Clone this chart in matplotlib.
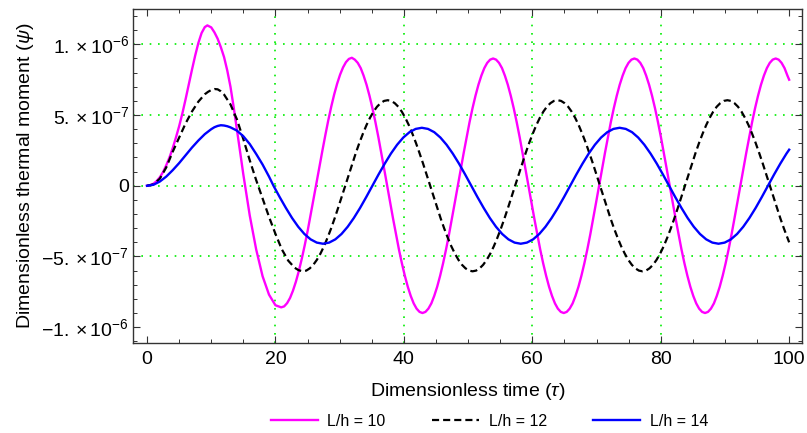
import matplotlib

matplotlib.use("Agg")
import matplotlib.pyplot as plt
from matplotlib.ticker import MultipleLocator

# values (psi in units of 1e-6)
t_10 = [0.0, 0.5, 1.0, 1.5, 2.0, 2.5, 3.0, 3.5, 4.0, 4.5, 5.0, 5.5, 6.0, 6.5, 7.0, 7.5,
        8.0, 8.5, 9.0, 9.4, 10.0, 10.5, 11.0, 11.5, 12.0, 12.5, 13.0, 13.5, 14.0, 14.5,
        15.0, 16.0, 17.0, 18.0, 19.0, 20.0,
        20.90, 21.36, 21.82, 22.28, 22.73, 23.19, 23.65, 24.11, 24.57, 25.03, 25.48, 25.94,
        26.40, 26.86, 27.32, 27.78, 28.23, 28.69, 29.15, 29.61, 30.07, 30.53, 30.98, 31.44,
        31.90, 32.36, 32.82, 33.28, 33.73, 34.19, 34.65, 35.11, 35.57, 36.03, 36.48, 36.94,
        37.40, 37.86, 38.32, 38.78, 39.23, 39.69, 40.15, 40.61, 41.07, 41.53, 41.98, 42.44,
        42.90, 43.36, 43.82, 44.28, 44.73, 45.19, 45.65, 46.11, 46.57, 47.03, 47.48, 47.94,
        48.40, 48.86, 49.32, 49.78, 50.23, 50.69, 51.15, 51.61, 52.07, 52.53, 52.98, 53.44,
        53.90, 54.36, 54.82, 55.28, 55.73, 56.19, 56.65, 57.11, 57.57, 58.03, 58.48, 58.94,
        59.40, 59.86, 60.32, 60.78, 61.23, 61.69, 62.15, 62.61, 63.07, 63.53, 63.98, 64.44,
        64.90, 65.36, 65.82, 66.28, 66.73, 67.19, 67.65, 68.11, 68.57, 69.03, 69.48, 69.94,
        70.40, 70.86, 71.32, 71.78, 72.23, 72.69, 73.15, 73.61, 74.07, 74.53, 74.98, 75.44,
        75.90, 76.36, 76.82, 77.28, 77.73, 78.19, 78.65, 79.11, 79.57, 80.03, 80.48, 80.94,
        81.40, 81.86, 82.32, 82.78, 83.23, 83.69, 84.15, 84.61, 85.07, 85.53, 85.98, 86.44,
        86.90, 87.36, 87.82, 88.28, 88.73, 89.19, 89.65, 90.11, 90.57, 91.03, 91.48, 91.94,
        92.40, 92.86, 93.32, 93.78, 94.23, 94.69, 95.15, 95.61, 96.07, 96.53, 96.98, 97.44,
        97.90, 98.36, 98.82, 99.28, 99.73, 100.0]
psi_10 = [0.0, 0.004, 0.014, 0.033, 0.06, 0.097, 0.145, 0.20, 0.265, 0.34, 0.42, 0.51, 0.61, 0.715, 0.82, 0.92,
          1.01, 1.08, 1.122, 1.134, 1.12, 1.085, 1.04, 0.98, 0.91, 0.815, 0.70, 0.555, 0.40, 0.24,
          0.08, -0.21, -0.45, -0.64, -0.77, -0.845,
          -0.860, -0.853, -0.830, -0.793, -0.742, -0.678, -0.602, -0.515, -0.419, -0.316, -0.206, -0.093,
          0.022, 0.137, 0.250, 0.360, 0.463, 0.559, 0.646, 0.722, 0.786, 0.837, 0.874, 0.897,
          0.905, 0.892, 0.869, 0.832, 0.779, 0.714, 0.636, 0.548, 0.45, 0.344, 0.233, 0.117,
          0.0, -0.117, -0.233, -0.344, -0.45, -0.548, -0.636, -0.714, -0.779, -0.832, -0.869, -0.892,
          -0.9, -0.892, -0.869, -0.832, -0.779, -0.714, -0.636, -0.548, -0.45, -0.344, -0.233, -0.117,
          0.0, 0.117, 0.233, 0.344, 0.45, 0.548, 0.636, 0.714, 0.779, 0.832, 0.869, 0.892,
          0.9, 0.892, 0.869, 0.832, 0.779, 0.714, 0.636, 0.548, 0.45, 0.344, 0.233, 0.117,
          0.0, -0.117, -0.233, -0.344, -0.45, -0.548, -0.636, -0.714, -0.779, -0.832, -0.869, -0.892,
          -0.9, -0.892, -0.869, -0.832, -0.779, -0.714, -0.636, -0.548, -0.45, -0.344, -0.233, -0.117,
          0.0, 0.117, 0.233, 0.344, 0.45, 0.548, 0.636, 0.714, 0.779, 0.832, 0.869, 0.892,
          0.9, 0.892, 0.869, 0.832, 0.779, 0.714, 0.636, 0.548, 0.45, 0.344, 0.233, 0.117,
          0.0, -0.117, -0.233, -0.344, -0.45, -0.548, -0.636, -0.714, -0.779, -0.832, -0.869, -0.892,
          -0.9, -0.892, -0.869, -0.832, -0.779, -0.714, -0.636, -0.548, -0.45, -0.344, -0.233, -0.117,
          0.0, 0.117, 0.233, 0.344, 0.45, 0.548, 0.636, 0.714, 0.779, 0.832, 0.869, 0.892,
          0.9, 0.892, 0.869, 0.832, 0.779, 0.75]

t_12 = [0.0, 1.0, 2.0, 3.0, 4.0, 5.0, 6.0, 7.0, 8.0, 9.0, 9.5, 10.0, 10.5, 11.0, 11.5,
        12.0, 13.0, 14.0, 15.0, 16.0, 17.0, 18.0, 19.0, 20.0, 21.0, 22.0, 23.0, 23.6,
        24.25, 24.80, 25.35, 25.90, 26.45, 27.01, 27.56, 28.11, 28.66, 29.21, 29.76, 30.31,
        30.86, 31.41, 31.97, 32.52, 33.07, 33.62, 34.17, 34.72, 35.27, 35.82, 36.37, 36.92,
        37.48, 38.03, 38.58, 39.13, 39.68, 40.23, 40.78, 41.33, 41.88, 42.43, 42.99, 43.54,
        44.09, 44.64, 45.19, 45.74, 46.29, 46.84, 47.39, 47.95, 48.50, 49.05, 49.60, 50.15,
        50.70, 51.25, 51.80, 52.35, 52.90, 53.46, 54.01, 54.56, 55.11, 55.66, 56.21, 56.76,
        57.31, 57.86, 58.42, 58.97, 59.52, 60.07, 60.62, 61.17, 61.72, 62.27, 62.82, 63.37,
        63.93, 64.48, 65.03, 65.58, 66.13, 66.68, 67.23, 67.78, 68.33, 68.88, 69.44, 69.99,
        70.54, 71.09, 71.64, 72.19, 72.74, 73.29, 73.84, 74.40, 74.95, 75.50, 76.05, 76.60,
        77.15, 77.70, 78.25, 78.80, 79.35, 79.91, 80.46, 81.01, 81.56, 82.11, 82.66, 83.21,
        83.76, 84.31, 84.87, 85.42, 85.97, 86.52, 87.07, 87.62, 88.17, 88.72, 89.27, 89.82,
        90.38, 90.93, 91.48, 92.03, 92.58, 93.13, 93.68, 94.23, 94.78, 95.33, 95.89, 96.44,
        96.99, 97.54, 98.09, 98.64, 99.19, 99.74, 100.0]
psi_12 = [0.0, 0.01, 0.05, 0.13, 0.24, 0.34, 0.44, 0.525, 0.595, 0.647, 0.664, 0.677, 0.684, 0.682, 0.668,
          0.645, 0.575, 0.47, 0.33, 0.18, 0.04, -0.09, -0.22, -0.34, -0.45, -0.53, -0.58, -0.597,
          -0.605, -0.600, -0.584, -0.559, -0.524, -0.480, -0.428, -0.368, -0.303, -0.232, -0.157, -0.079,
          0.0, 0.079, 0.157, 0.232, 0.303, 0.368, 0.428, 0.480, 0.524, 0.559, 0.584, 0.600,
          0.605, 0.600, 0.584, 0.559, 0.524, 0.480, 0.428, 0.368, 0.303, 0.232, 0.157, 0.079,
          0.0, -0.079, -0.157, -0.232, -0.303, -0.368, -0.428, -0.480, -0.524, -0.559, -0.584, -0.600,
          -0.605, -0.600, -0.584, -0.559, -0.524, -0.480, -0.428, -0.368, -0.303, -0.232, -0.157, -0.079,
          0.0, 0.079, 0.157, 0.232, 0.303, 0.368, 0.428, 0.480, 0.524, 0.559, 0.584, 0.600,
          0.605, 0.600, 0.584, 0.559, 0.524, 0.480, 0.428, 0.368, 0.303, 0.232, 0.157, 0.079,
          0.0, -0.079, -0.157, -0.232, -0.303, -0.368, -0.428, -0.480, -0.524, -0.559, -0.584, -0.600,
          -0.605, -0.600, -0.584, -0.559, -0.524, -0.480, -0.428, -0.368, -0.303, -0.232, -0.157, -0.079,
          0.0, 0.079, 0.157, 0.232, 0.303, 0.368, 0.428, 0.480, 0.524, 0.559, 0.584, 0.600,
          0.605, 0.600, 0.584, 0.559, 0.524, 0.480, 0.428, 0.368, 0.303, 0.232, 0.157, 0.079,
          0.0, -0.079, -0.157, -0.232, -0.303, -0.368, -0.40]

t_14 = [0.0, 1.0, 2.0, 3.0, 4.0, 5.0, 6.0, 7.0, 8.0, 9.0, 10.0, 10.5, 11.0, 11.5,
        12.0, 12.5, 13.0, 14.0, 15.0, 16.0, 17.0, 18.0, 19.0,
        19.70, 20.66, 21.63, 22.59, 23.55, 24.51, 25.48, 26.44,
        27.40, 28.36, 29.33, 30.29, 31.25, 32.21, 33.18, 34.14, 35.10, 36.06, 37.03, 37.99,
        38.95, 39.91, 40.88, 41.84, 42.80, 43.76, 44.73, 45.69, 46.65, 47.61, 48.58, 49.54,
        50.50, 51.46, 52.43, 53.39, 54.35, 55.31, 56.28, 57.24, 58.20, 59.16, 60.13, 61.09,
        62.05, 63.01, 63.98, 64.94, 65.90, 66.86, 67.83, 68.79, 69.75, 70.71, 71.68, 72.64,
        73.60, 74.56, 75.53, 76.49, 77.45, 78.41, 79.38, 80.34, 81.30, 82.26, 83.23, 84.19,
        85.15, 86.11, 87.08, 88.04, 89.00, 89.96, 90.93, 91.89, 92.85, 93.81, 94.78, 95.74,
        96.70, 97.66, 98.63, 99.59, 100.0]
psi_14 = [0.0, 0.007, 0.03, 0.065, 0.11, 0.16, 0.215, 0.27, 0.32, 0.365, 0.40, 0.414, 0.423, 0.428,
          0.426, 0.421, 0.413, 0.39, 0.35, 0.295, 0.225, 0.15, 0.065,
          0.0, -0.080, -0.157, -0.228, -0.290, -0.341, -0.379, -0.402,
          -0.41, -0.402, -0.379, -0.341, -0.290, -0.228, -0.157, -0.080, 0.0, 0.080, 0.157, 0.228,
          0.290, 0.341, 0.379, 0.402, 0.41, 0.402, 0.379, 0.341, 0.290, 0.228, 0.157, 0.080,
          0.0, -0.080, -0.157, -0.228, -0.290, -0.341, -0.379, -0.402, -0.41, -0.402, -0.379, -0.341,
          -0.290, -0.228, -0.157, -0.080, 0.0, 0.080, 0.157, 0.228, 0.290, 0.341, 0.379, 0.402,
          0.41, 0.402, 0.379, 0.341, 0.290, 0.228, 0.157, 0.080, 0.0, -0.080, -0.157, -0.228,
          -0.290, -0.341, -0.379, -0.402, -0.41, -0.402, -0.379, -0.341, -0.290, -0.228, -0.157, -0.080,
          0.0, 0.080, 0.157, 0.228, 0.255]

labels = ["L/h = 10", "L/h = 12", "L/h = 14"]
x_ticks = [0, 20, 40, 60, 80, 100]
y_ticks = [-1e-6, -5e-7, 0, 5e-7, 1e-6]
y_tick_labels = [r"$-1.\times10^{-6}$", r"$-5.\times10^{-7}$", "0",
                 r"$5.\times10^{-7}$", r"$1.\times10^{-6}$"]
x_grid = [20, 40, 60, 80]
y_grid = [-5e-7, 0, 5e-7, 1e-6]

plt.rcParams["font.family"] = ["Liberation Sans", "DejaVu Sans"]
plt.rcParams["mathtext.fontset"] = "custom"
plt.rcParams["mathtext.rm"] = "Liberation Sans"
plt.rcParams["mathtext.it"] = "Liberation Sans:italic"

fig = plt.figure(figsize=(8.07, 4.33), dpi=100)
ax = fig.add_axes([133 / 807, 1 - 343 / 433, (802 - 133) / 807, (343 - 9) / 433])

for g in x_grid:
    ax.axvline(g, color="#00ee00", lw=1.2, ls=(0, (1, 4)), zorder=1)
for g in y_grid:
    ax.axhline(g, color="#00ee00", lw=1.2, ls=(0, (1, 4)), zorder=1)

scale = 1e-6
ax.plot(t_10, [v * scale for v in psi_10], color="#ff00ff", lw=1.7, label=labels[0], zorder=3)
ax.plot(t_12, [v * scale for v in psi_12], color="black", lw=1.6, ls=(0, (3.2, 1.8)),
        label=labels[1], zorder=3)
ax.plot(t_14, [v * scale for v in psi_14], color="#0000ff", lw=1.7, label=labels[2], zorder=3)

ax.set_xlim(-2.18, 102.0)
ax.set_ylim(-1.112e-6, 1.25e-6)
ax.set_xticks(x_ticks)
ax.set_yticks(y_ticks)
ax.set_yticklabels(y_tick_labels)
ax.xaxis.set_minor_locator(MultipleLocator(5))
ax.yaxis.set_minor_locator(MultipleLocator(1e-7))
ax.tick_params(which="both", direction="in", top=True, right=True,
               labelsize=14, color="#333333")
ax.tick_params(axis="x", which="major", length=5, width=0.8, pad=6)
ax.tick_params(axis="y", which="major", length=5, width=0.8, pad=3)
ax.tick_params(which="minor", length=2.8, width=0.7)
for sp in ax.spines.values():
    sp.set_color("#333333")
    sp.set_linewidth(1.0)

ax.set_xlabel(r"Dimensionless time ($\tau$)", fontsize=14, labelpad=9)
ax.set_ylabel(r"Dimensionless thermal moment ($\psi$)", fontsize=14, labelpad=4)

fig.legend(loc="center", bbox_to_anchor=(0.6066, 0.0277), ncol=3, frameon=False,
           fontsize=11.5, handlelength=2.95, handletextpad=0.6, columnspacing=2.9)

fig.savefig("out.png", dpi=100)
plt.close(fig)
